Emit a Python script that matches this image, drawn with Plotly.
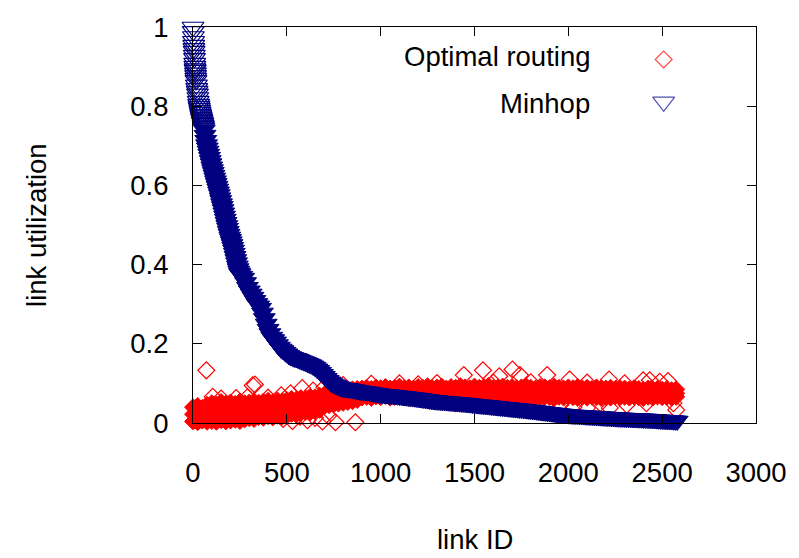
import plotly.graph_objects as go

# ---------------- data ----------------
# Optimal routing: dense core rows (link IDs every 25)
opt_core_x = list(range(0, 2600, 25))
opt_core_hi = [0.040, 0.043, 0.038, 0.046,
               0.050, 0.047, 0.053, 0.049, 0.052, 0.048, 0.054, 0.050,
               0.052, 0.055, 0.051, 0.054, 0.056, 0.052, 0.057, 0.055,
               0.058, 0.061, 0.059, 0.063, 0.062, 0.066, 0.065, 0.069,
               0.072, 0.076, 0.079, 0.081, 0.083, 0.084, 0.085, 0.086,
               0.087, 0.089, 0.086, 0.090, 0.088, 0.091, 0.087, 0.089,
               0.092, 0.088, 0.090, 0.087, 0.091, 0.089, 0.093, 0.088,
               0.090, 0.092, 0.087, 0.091, 0.089, 0.093, 0.090, 0.088,
               0.092, 0.089, 0.091, 0.094, 0.088, 0.090, 0.092, 0.089,
               0.091, 0.088, 0.090, 0.093, 0.089, 0.087, 0.091, 0.090,
               0.088, 0.092, 0.089, 0.087, 0.090, 0.088, 0.091, 0.087,
               0.089, 0.086, 0.090, 0.088, 0.087, 0.089, 0.086, 0.088,
               0.087, 0.085, 0.088, 0.086, 0.084, 0.087, 0.085, 0.086, 0.084, 0.086, 0.083, 0.085]
opt_core_mid = [0.022, 0.026, 0.020, 0.025,
                0.027, 0.024, 0.029, 0.025, 0.028, 0.023, 0.027, 0.030,
                0.031, 0.033, 0.029, 0.034, 0.032, 0.036, 0.033, 0.037,
                0.039, 0.042, 0.040, 0.044, 0.046, 0.048, 0.050, 0.053,
                0.056, 0.059, 0.062, 0.064, 0.066, 0.068, 0.070, 0.071,
                0.076, 0.078, 0.075, 0.077, 0.079, 0.076, 0.078, 0.077,
                0.079, 0.076, 0.078, 0.080, 0.077, 0.079, 0.076, 0.078,
                0.080, 0.077, 0.079, 0.076, 0.078, 0.080, 0.077, 0.079,
                0.078, 0.076, 0.080, 0.077, 0.079, 0.078, 0.076, 0.079,
                0.077, 0.080, 0.078, 0.076, 0.079, 0.077, 0.078, 0.076,
                0.079, 0.077, 0.075, 0.078, 0.076, 0.079, 0.077, 0.075,
                0.078, 0.076, 0.077, 0.075, 0.078, 0.076, 0.074, 0.077,
                0.076, 0.074, 0.077, 0.075, 0.076, 0.074, 0.076, 0.075, 0.073, 0.076, 0.074, 0.075]
opt_core_lo = [0.004, 0.002, 0.006, 0.003,
               0.005, 0.003, 0.007, 0.004, 0.006, 0.008, 0.005, 0.009,
               0.012, 0.010, 0.015, 0.013, 0.017, 0.014, 0.018, 0.016,
               0.020, 0.023, 0.021, 0.025, 0.028, 0.027, 0.031, 0.033,
               0.042, 0.045, 0.047, 0.049, 0.051, 0.053, 0.055, 0.058,
               0.064, 0.066, 0.063, 0.067, 0.065, 0.068, 0.064, 0.066,
               0.067, 0.065, 0.063, 0.066, 0.068, 0.064, 0.066, 0.065,
               0.063, 0.067, 0.065, 0.064, 0.068, 0.066, 0.063, 0.065,
               0.067, 0.064, 0.066, 0.068, 0.065, 0.063, 0.067, 0.065,
               0.064, 0.066, 0.068, 0.065, 0.063, 0.066, 0.064, 0.067,
               0.065, 0.063, 0.066, 0.064, 0.067, 0.065, 0.063, 0.066,
               0.064, 0.067, 0.065, 0.063, 0.066, 0.064, 0.067, 0.065,
               0.066, 0.064, 0.067, 0.065, 0.063, 0.066, 0.064, 0.067, 0.065, 0.066, 0.064, 0.066]

# Optimal routing: scattered points around the core and outliers
opt_fringe_x = [71, 318, 330, 105, 150, 230, 290, 400, 470, 520, 582, 640, 700,
                480, 530, 570, 610, 650, 690, 720, 759, 865,
                800, 950, 1100, 1200, 1300, 1443, 1545, 1600, 1632, 1702, 1742, 1800, 1887, 2007, 2100,
                2217, 2300, 2399, 2434, 2487, 2531,
                1393, 1400, 1570, 1692, 1740, 1797, 1834, 1957, 2028, 2100, 2170, 2221, 2311, 2416, 2560, 2575]
opt_fringe_y = [0.133, 0.095, 0.097, 0.066, 0.062, 0.063, 0.065, 0.064, 0.070, 0.075, 0.088, 0.082, 0.090,
                0.010, 0.005, 0.016, 0.007, 0.013, 0.004, 0.018, 0.002, 0.002,
                0.096, 0.099, 0.100, 0.098, 0.101, 0.121, 0.133, 0.102, 0.118, 0.135, 0.121, 0.103, 0.121, 0.110, 0.102,
                0.110, 0.100, 0.108, 0.108, 0.104, 0.106,
                0.054, 0.050, 0.050, 0.042, 0.045, 0.041, 0.041, 0.046, 0.040, 0.038, 0.050, 0.038, 0.046, 0.050, 0.050, 0.033]

# Minhop: most utilized links (sparse, top)
min_top_x = [0, 1, 2, 3, 4, 5, 6, 7, 8, 9, 10, 11, 12, 13, 14, 15, 16,
             18, 20, 22, 24, 26, 28, 30, 32, 34, 36, 38, 40, 42, 44, 46, 48, 50, 52, 54, 56, 58]
min_top_y = [1.0, 0.989, 0.976, 0.964, 0.954, 0.946, 0.939, 0.929, 0.921, 0.909, 0.901, 0.895,
             0.891, 0.884, 0.878, 0.871, 0.865,
             0.854, 0.845, 0.838, 0.831, 0.822, 0.813, 0.805, 0.800, 0.795, 0.790, 0.785,
             0.780, 0.776, 0.772, 0.768, 0.764, 0.760, 0.757, 0.753, 0.749, 0.745]

# Minhop: steep part (link IDs every 4, 60..248)
min_steep_x = list(range(60, 250, 4))
min_steep_y = [0.740, 0.727, 0.714, 0.703, 0.695, 0.687, 0.679, 0.671, 0.663, 0.655,
               0.647, 0.640, 0.633, 0.626, 0.619, 0.612, 0.605, 0.598, 0.591, 0.584,
               0.577, 0.569, 0.562, 0.554, 0.547, 0.539, 0.531, 0.523, 0.515, 0.507,
               0.499, 0.492, 0.484, 0.477, 0.470, 0.464, 0.458, 0.451, 0.444, 0.437,
               0.429, 0.421, 0.413, 0.405, 0.397, 0.390, 0.384, 0.379]

# Minhop: remaining links (link IDs every 10, 250..2580)
min_x = list(range(250, 2590, 10))
min_y = [0.376, 0.371, 0.366, 0.355, 0.343, 0.334, 0.326, 0.318, 0.310, 0.302,
         0.296, 0.290, 0.278, 0.264, 0.250, 0.237, 0.226, 0.217, 0.211, 0.205,
         0.198, 0.192, 0.187, 0.183, 0.179, 0.175, 0.171, 0.168, 0.166, 0.164,
         0.163, 0.161, 0.159, 0.157, 0.155, 0.153, 0.151, 0.149, 0.147, 0.144,
         0.141, 0.137, 0.133, 0.128, 0.123, 0.118, 0.113, 0.108, 0.104, 0.100,
         0.097, 0.095, 0.093, 0.091, 0.089,
         0.0880, 0.0875, 0.0870, 0.0865, 0.0860, 0.0850, 0.0840, 0.0830, 0.0820, 0.0810,
         0.0800, 0.0795, 0.0790, 0.0785, 0.0780, 0.0770, 0.0762, 0.0755, 0.0748, 0.0740,
         0.0730, 0.0726, 0.0722, 0.0718, 0.0713, 0.0708, 0.0703, 0.0698, 0.0693, 0.0688,
         0.0683, 0.0677, 0.0672, 0.0666, 0.0660, 0.0655, 0.0649, 0.0643, 0.0637, 0.0631,
         0.0625, 0.0618, 0.0611, 0.0604, 0.0597, 0.0590, 0.0583, 0.0576, 0.0570, 0.0565,
         0.0560, 0.0556, 0.0552, 0.0548, 0.0544, 0.0540, 0.0536, 0.0532, 0.0528, 0.0524,
         0.0520, 0.0516, 0.0512, 0.0508, 0.0504, 0.0500, 0.0495, 0.0490, 0.0485, 0.0478,
         0.0470, 0.0466, 0.0462, 0.0458, 0.0454, 0.0450, 0.0445, 0.0440, 0.0435, 0.0430,
         0.0425, 0.0420, 0.0415, 0.0410, 0.0405, 0.0400, 0.0395, 0.0390, 0.0385, 0.0380,
         0.0375, 0.0370, 0.0365, 0.0360, 0.0355, 0.0350, 0.0345, 0.0340, 0.0335, 0.0330,
         0.0325, 0.0319, 0.0313, 0.0307, 0.0301, 0.0295, 0.0289, 0.0283, 0.0277, 0.0271,
         0.0265, 0.0259, 0.0253, 0.0247, 0.0241, 0.0236, 0.0231, 0.0226, 0.0221, 0.0216,
         0.0211, 0.0208, 0.0205, 0.0202, 0.0199, 0.0196, 0.0193, 0.0190, 0.0187, 0.0184,
         0.0181, 0.0178, 0.0175, 0.0172, 0.0169, 0.0166, 0.0163, 0.0160, 0.0157, 0.0154,
         0.0151, 0.0148, 0.0145, 0.0142, 0.0139, 0.0136, 0.0133, 0.0130, 0.0128, 0.0126,
         0.0124, 0.0122, 0.0120, 0.0118, 0.0116, 0.0114, 0.0112, 0.0110, 0.0108, 0.0106,
         0.0104, 0.0102, 0.0099, 0.0096, 0.0093, 0.0090, 0.0087, 0.0084, 0.0081, 0.0078,
         0.0075, 0.0072, 0.0069, 0.0066, 0.0063, 0.0060, 0.0057, 0.0054, 0.0050]

series_names = ["Optimal routing", "Minhop"]
x_ticks = [0, 500, 1000, 1500, 2000, 2500, 3000]
y_ticks = [0, 0.2, 0.4, 0.6, 0.8, 1]
y_tick_text = ["0", "0.2", "0.4", "0.6", "0.8", "1"]

# ---------------- style ----------------
RED = "#ff0000"
BLUE = "#000080"
FONT = "Liberation Sans, Arial, Helvetica, sans-serif"
FS = 27.5
D_SIZE = 13
T_SIZE = 19

fig = go.Figure()

core_y_all = opt_core_lo + opt_core_mid + opt_core_hi
core_x_all = opt_core_x * 3
fig.add_trace(go.Scatter(
    x=core_x_all, y=core_y_all, mode="markers", showlegend=False, cliponaxis=False,
    marker=dict(symbol="diamond", size=D_SIZE, color=RED, line=dict(color=RED, width=1)),
    name=series_names[0]))
fig.add_trace(go.Scatter(
    x=opt_fringe_x, y=opt_fringe_y, mode="markers", showlegend=False, cliponaxis=False,
    marker=dict(symbol="diamond-open", size=D_SIZE, color=RED, line=dict(color=RED, width=1.2)),
    name=series_names[0]))
fig.add_trace(go.Scatter(
    x=min_top_x, y=min_top_y, mode="markers", showlegend=False, cliponaxis=False,
    marker=dict(symbol="triangle-down-open", size=T_SIZE, color=BLUE, line=dict(color=BLUE, width=1.2)),
    name=series_names[1]))
fig.add_trace(go.Scatter(
    x=min_steep_x + min_x, y=min_steep_y + min_y, mode="markers", showlegend=False, cliponaxis=False,
    marker=dict(symbol="triangle-down", size=T_SIZE, color=BLUE, line=dict(color=BLUE, width=1)),
    name=series_names[1]))

# legend (gnuplot style: text then symbol) on an overlay axis
fig.add_trace(go.Scatter(
    x=[0.836, 0.836], y=[0.918, 0.811], xaxis="x2", yaxis="y2", mode="markers",
    showlegend=False, cliponaxis=False, hoverinfo="skip",
    marker=dict(symbol=["diamond-open", "triangle-down-open"], size=[D_SIZE, T_SIZE],
                color=[RED, BLUE], line=dict(color=[RED, BLUE], width=1.2))))

axis_common = dict(showline=True, linecolor="black", linewidth=1, mirror="ticks",
                   ticks="inside", ticklen=9, tickcolor="black", tickwidth=1,
                   showgrid=False, zeroline=False,
                   tickfont=dict(family=FONT, size=FS, color="black"))

fig.update_layout(
    width=799, height=558,
    margin=dict(l=193, r=39, t=23, b=135),
    paper_bgcolor="white", plot_bgcolor="white",
    font=dict(family=FONT, size=FS, color="black"),
    showlegend=False,
    xaxis=dict(range=[0, 3000], tickvals=x_ticks, ticklabelstandoff=25, **axis_common),
    yaxis=dict(range=[0, 1], tickvals=y_ticks, ticktext=y_tick_text, ticklabelstandoff=18, **axis_common),
    xaxis2=dict(range=[0, 1], overlaying="x", visible=False),
    yaxis2=dict(range=[0, 1], overlaying="y", visible=False),
    annotations=[
        dict(text=series_names[0], xref="paper", yref="paper", x=0.708, y=0.925,
             xanchor="right", yanchor="middle", showarrow=False, font=dict(family=FONT, size=FS)),
        dict(text=series_names[1], xref="paper", yref="paper", x=0.708, y=0.808,
             xanchor="right", yanchor="middle", showarrow=False, font=dict(family=FONT, size=FS)),
        dict(text="link ID", xref="paper", yref="paper", x=0.5, y=-0.294,
             xanchor="center", yanchor="middle", showarrow=False, font=dict(family=FONT, size=FS)),
        dict(text="link utilization", xref="paper", yref="paper", x=-0.279, y=0.5,
             xanchor="center", yanchor="middle", textangle=-90, showarrow=False,
             font=dict(family=FONT, size=FS)),
    ],
)

fig.write_html("out.html", config={"displayModeBar": False},
               post_script="document.body.style.margin='0';")
